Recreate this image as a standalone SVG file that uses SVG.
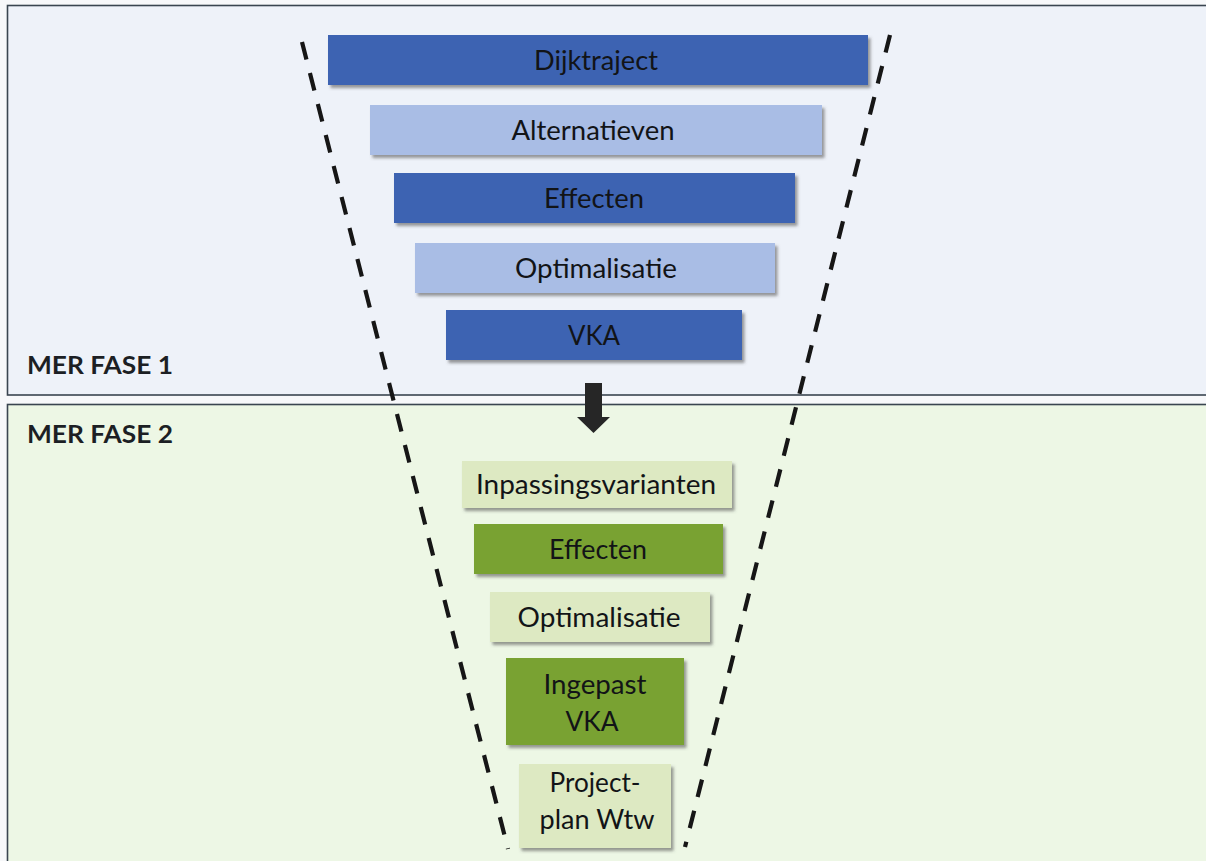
<svg xmlns="http://www.w3.org/2000/svg" width="1206" height="861" viewBox="0 0 1206 861">
  <defs>
    <filter id="sh" x="-10%" y="-20%" width="125%" height="150%">
      <feDropShadow dx="2.5" dy="3" stdDeviation="1.6" flood-color="#4a4a4a" flood-opacity="0.55"/>
    </filter>
  </defs>
  <style>
    .panel { stroke: #3a4550; stroke-width: 1.6; }
    .p1 { fill: #eef2f9; }
    .p2 { fill: #edf7e5; }
    .phase { font-family: Lato, "Liberation Sans", sans-serif; font-weight: bold; font-size: 24px; fill: #1c1f24; }
    .bar { filter: url(#sh); }
    .db { fill: #3c63b2; }
    .lb { fill: #a9bde5; }
    .dg { fill: #79a233; }
    .lg { fill: #dde9c2; }
    .lbl { font-family: Lato, "Liberation Sans", sans-serif; font-size: 27px; fill: #121417; text-anchor: middle; }
    .funnel { fill: none; stroke: #161616; stroke-width: 4.2; stroke-dasharray: 18 14; }
    .arrow { fill: #262626; }
  </style>

  <rect width="1206" height="861" fill="#f7f8fa"/>

  <g id="panel-fase1">
    <rect class="panel p1" x="7.5" y="5.5" width="1210" height="389.5"/>
    <text class="phase" x="27" y="374" textLength="146" lengthAdjust="spacingAndGlyphs">MER FASE 1</text>
  </g>
  <g id="panel-fase2">
    <rect class="panel p2" x="7.5" y="404.5" width="1210" height="470"/>
    <text class="phase" x="27" y="443" textLength="146" lengthAdjust="spacingAndGlyphs">MER FASE 2</text>
  </g>

  <g id="funnel">
    <line class="funnel" x1="302" y1="42" x2="508" y2="849"/>
    <line class="funnel" x1="890" y1="35" x2="685" y2="847"/>
  </g>

  <g id="dijktraject">
    <rect class="bar db" x="328" y="35" width="540" height="50"/>
    <text class="lbl" x="596" y="69.5" textLength="124" lengthAdjust="spacingAndGlyphs">Dijktraject</text>
  </g>
  <g id="alternatieven">
    <rect class="bar lb" x="370" y="105" width="452" height="50"/>
    <text class="lbl" x="593" y="139.5" textLength="163" lengthAdjust="spacingAndGlyphs">Alternatieven</text>
  </g>
  <g id="effecten1">
    <rect class="bar db" x="394" y="173" width="401" height="50"/>
    <text class="lbl" x="594" y="207.5" textLength="100" lengthAdjust="spacingAndGlyphs">Effecten</text>
  </g>
  <g id="optimalisatie1">
    <rect class="bar lb" x="415" y="243" width="360" height="50"/>
    <text class="lbl" x="596" y="277.5" textLength="162" lengthAdjust="spacingAndGlyphs">Optimalisatie</text>
  </g>
  <g id="vka">
    <rect class="bar db" x="446" y="310" width="296" height="50"/>
    <text class="lbl" x="594" y="344.5" textLength="52" lengthAdjust="spacingAndGlyphs">VKA</text>
  </g>

  <g id="inpassingsvarianten">
    <rect class="bar lg" x="462" y="461" width="270" height="47"/>
    <text class="lbl" x="596" y="493.5" textLength="240" lengthAdjust="spacingAndGlyphs">Inpassingsvarianten</text>
  </g>
  <g id="effecten2">
    <rect class="bar dg" x="474" y="524" width="249" height="50"/>
    <text class="lbl" x="598" y="558.5" textLength="98" lengthAdjust="spacingAndGlyphs">Effecten</text>
  </g>
  <g id="optimalisatie2">
    <rect class="bar lg" x="490" y="592" width="220" height="50"/>
    <text class="lbl" x="599" y="626.5" textLength="163" lengthAdjust="spacingAndGlyphs">Optimalisatie</text>
  </g>
  <g id="ingepast-vka">
    <rect class="bar dg" x="506" y="658" width="178" height="87"/>
    <text class="lbl" x="595" y="694" textLength="103" lengthAdjust="spacingAndGlyphs">Ingepast</text>
    <text class="lbl" x="592" y="731" textLength="53" lengthAdjust="spacingAndGlyphs">VKA</text>
  </g>
  <g id="projectplan-wtw">
    <rect class="bar lg" x="519" y="764" width="152" height="84"/>
    <text class="lbl" x="595" y="792" textLength="91" lengthAdjust="spacingAndGlyphs">Project-</text>
    <text class="lbl" x="597" y="829" textLength="115" lengthAdjust="spacingAndGlyphs">plan Wtw</text>
  </g>

  <g id="connectors">
    <path class="arrow" d="M585,383 H602 V417 H610 L593.5,433 L577,417 H585 Z"/>
  </g>
</svg>
